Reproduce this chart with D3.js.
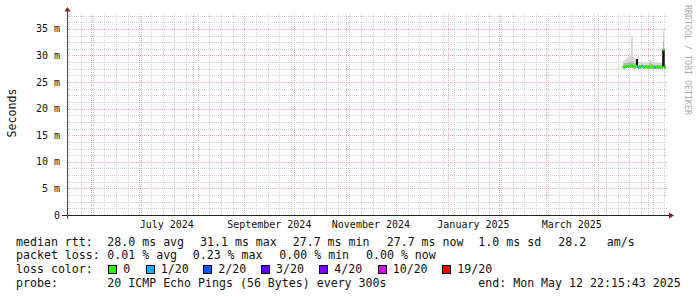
<!DOCTYPE html>
<html><head><meta charset="utf-8">
<script src="https://cdn.jsdelivr.net/npm/d3@7/dist/d3.min.js"></script>
<style>
html,body{margin:0;padding:0;background:#fff;}
svg{display:block;}
text{font-family:"DejaVu Sans Mono",monospace;white-space:pre;}
</style>
</head><body>
<svg id="c" width="697" height="297"></svg>
<script>
// ---------------- data ----------------
const endTime = new Date(2025, 4, 12, 22, 15, 43);
const spanDays = 360;
const days = ["2025-04-16","2025-04-17","2025-04-18","2025-04-19","2025-04-20","2025-04-21","2025-04-22",
  "2025-04-23","2025-04-24","2025-04-25","2025-04-26","2025-04-27","2025-04-28","2025-04-29","2025-04-30",
  "2025-05-01","2025-05-02","2025-05-03","2025-05-04","2025-05-05","2025-05-06","2025-05-07","2025-05-08",
  "2025-05-09","2025-05-10","2025-05-11"];
const medianMs = [27.8,27.9,27.9,28.0,28.0,28.1,27.9,27.9,28.0,27.8,27.9,28.0,27.8,27.8,27.9,
  27.8,27.9,27.9,27.8,27.8,27.8,27.9,27.8,27.8,31.1,27.7];
const lossCount = [0,0,0,0,0,0,0,0,0,1,0,1,0,0,0,0,0,0,0,1,0,0,0,0,0,0];
const smokeLoMs = [27.5,27.5,27.6,27.6,27.6,27.6,27.5,27.5,27.6,27.5,27.5,27.6,27.5,27.5,27.5,
  27.5,27.5,27.5,27.5,27.5,27.5,27.5,27.5,27.5,27.8,27.5];
const smokeHiMs = [28.9,29.2,29.5,29.8,30.1,33.5,29.7,29.6,29.3,28.8,28.7,28.8,28.6,28.8,28.7,
  28.8,29.1,29.0,28.8,28.7,28.6,28.7,28.6,28.6,34.8,28.4];
const smokeMidMs = [28.4,28.5,28.6,28.7,28.8,29.0,28.6,28.6,28.6,28.3,28.3,28.3,28.2,28.3,28.3,
  28.3,28.5,28.4,28.3,28.3,28.2,28.3,28.2,28.2,32.6,28.1];
const darkLoMs = [27.6,null,null,null,null,null,null,null,28.0,null,null,null,null,null,null,
  null,null,null,null,null,null,null,null,null,28.0,null];
const darkHiMs = [27.9,null,null,null,null,null,null,null,29.3,null,null,null,null,null,null,
  null,null,null,null,null,null,null,null,null,30.9,null];

const yTicks = [0,5,10,15,20,25,30,35];
const yTickLabels = ["0","5 m","10 m","15 m","20 m","25 m","30 m","35 m"];
const yMax = 37.8;
const labelMonths = ["2024-07-01","2024-09-01","2024-11-01","2025-01-01","2025-03-01"];

const lossColors = ["#26ff00","#00b8ff","#0059ff","#5e00ff","#7e00ff","#dd00ff","#ff0000"];
const lossLabels = ["0","1/20","2/20","3/20","4/20","10/20","19/20"];
const lossThresholds = [0,1,2,3,4,10,19];

const legendRtt = ["median rtt:","28.0 ms avg","31.1 ms max","27.7 ms min","27.7 ms now","1.0 ms sd","28.2","am/s"];
const legendLoss = ["packet loss:","0.01 % avg","0.23 % max","0.00 % min","0.00 % now"];
const legendProbe = ["probe:","20 ICMP Echo Pings (56 Bytes) every 300s","end: Mon May 12 22:15:43 2025"];

// ---------------- layout ----------------
const parse = d3.timeParse("%Y-%m-%d");
const startTime = d3.timeDay.offset(endTime, -spanDays);
const L = 67.5, R = 667.5, T = 14, B = 215;
const x = d3.scaleTime().domain([startTime, endTime]).range([L, R]);
const y = d3.scaleLinear().domain([0, yMax]).range([B, T]);
const svg = d3.select("#c");
svg.append("rect").attr("width",697).attr("height",297).attr("fill","#fff");

const minorCol = "#d2d2d2", majorCol = "#e8aeae";
const grid = svg.append("g").attr("shape-rendering","crispEdges");
const minorY = d3.range(1.25, yMax, 1.25).filter(v => Math.abs(v/5 - Math.round(v/5)) > 1e-6);
grid.selectAll(".hm").data(minorY).join("line")
  .attr("x1", L).attr("x2", R).attr("y1", d => Math.round(y(d))+0.5).attr("y2", d => Math.round(y(d))+0.5)
  .attr("stroke",minorCol).attr("stroke-dasharray","1,1");
const weeks = d3.timeSunday.range(startTime, endTime);
grid.selectAll(".vm").data(weeks).join("line")
  .attr("x1", d => Math.round(x(d))+0.5).attr("x2", d => Math.round(x(d))+0.5)
  .attr("y1", T).attr("y2", B).attr("stroke",minorCol).attr("stroke-dasharray","1,1");
grid.selectAll(".hM").data(yTicks.slice(1)).join("line")
  .attr("x1", L).attr("x2", R).attr("y1", d => Math.round(y(d))+0.5).attr("y2", d => Math.round(y(d))+0.5)
  .attr("stroke",majorCol).attr("stroke-dasharray","1,1");
const months = d3.timeMonth.range(startTime, endTime);
grid.selectAll(".vM").data(months).join("line")
  .attr("x1", d => Math.round(x(d))+0.5).attr("x2", d => Math.round(x(d))+0.5)
  .attr("y1", T).attr("y2", B).attr("stroke",majorCol).attr("stroke-dasharray","1,1");

// ---------------- data marks ----------------
const rows = days.map((d,i) => ({
  t0: parse(d), t1: d3.timeDay.offset(parse(d), 1),
  med: medianMs[i], loss: lossCount[i], lo: smokeLoMs[i], hi: smokeHiMs[i], mid: smokeMidMs[i],
  dlo: darkLoMs[i], dhi: darkHiMs[i]
}));
const marks = svg.append("g").attr("shape-rendering","crispEdges");
marks.selectAll(".s1").data(rows).join("rect")
  .attr("x", d => x(d.t0)).attr("width", d => x(d.t1)-x(d.t0))
  .attr("y", d => y(d.hi)).attr("height", d => y(d.lo)-y(d.hi)).attr("fill","#d6d6d6");
marks.selectAll(".s2").data(rows).join("rect")
  .attr("x", d => x(d.t0)).attr("width", d => x(d.t1)-x(d.t0))
  .attr("y", d => y(d.mid)).attr("height", d => y(d.lo)-y(d.mid)).attr("fill","#b4b4b4");
marks.selectAll(".s3").data(rows.filter(d => d.dlo != null)).join("rect")
  .attr("x", d => x(d.t0)).attr("width", d => Math.max(1.5, x(d.t1)-x(d.t0)))
  .attr("y", d => y(d.dhi)).attr("height", d => y(d.dlo)-y(d.dhi)).attr("fill","#111");
const stepPts = rows.flatMap(d => [[d.t0, d.med],[d.t1, d.med]]);
svg.append("path").attr("d", d3.line().x(p => x(p[0])).y(p => y(p[1]))(stepPts))
  .attr("fill","none").attr("stroke","#202020").attr("stroke-width",1);
const colorOf = l => { let c = lossColors[0]; lossThresholds.forEach((t,k) => { if (l >= t) c = lossColors[k]; }); return c; };
svg.selectAll(".med").data(rows).join("line")
  .attr("x1", d => x(d.t0)).attr("x2", d => x(d.t1))
  .attr("y1", d => y(d.med)).attr("y2", d => y(d.med))
  .attr("stroke", d => colorOf(d.loss)).attr("stroke-width",2.5);

// ---------------- axes ----------------
const ax = svg.append("g").attr("shape-rendering","crispEdges");
ax.append("line").attr("x1",62).attr("x2",669).attr("y1",B+0.5).attr("y2",B+0.5).attr("stroke","#222");
ax.append("line").attr("x1",L).attr("x2",L).attr("y1",10).attr("y2",219).attr("stroke","#444");
svg.append("path").attr("d",`M${L-3},11.5 L${L+3},11.5 L${L},7 Z`).attr("fill","#8b1a1a");
svg.append("path").attr("d",`M669,${B-2.5} L669,${B+3.5} L674,${B+0.5} Z`).attr("fill","#8b1a1a");

svg.selectAll(".yl").data(yTicks).join("text")
  .attr("x", 60).attr("y", d => y(d)+3.5).attr("text-anchor","end")
  .attr("font-size","10px").attr("fill","#111").text((d,i) => yTickLabels[i]);

const fmt = d3.timeFormat("%B %Y");
svg.selectAll(".xl").data(labelMonths.map(parse)).join("text")
  .attr("x", d => (x(d) + x(d3.timeMonth.offset(d,1)))/2).attr("y", 228)
  .attr("text-anchor","middle").attr("font-size","10px").attr("fill","#111").text(d => fmt(d));

svg.append("text").attr("transform","translate(15.5,113) rotate(-90)").attr("text-anchor","middle")
  .attr("font-size","11.6px").attr("fill","#111").text("Seconds");
svg.append("text").attr("transform","translate(684.5,5) rotate(90)").attr("text-anchor","start")
  .attr("font-size","8.3px").attr("fill","#aaa").text("RRDTOOL / TOBI OETIKER");

// ---------------- legend ----------------
const lg = svg.append("g").attr("font-size","11.6px").attr("fill","#111");
const rttX = [16,107.3,200,292.7,386.7,478.3,558.3,606.7];
lg.selectAll(".r1").data(legendRtt).join("text").attr("x",(d,i)=>rttX[i]).attr("y",245.5).text(d=>d);
const lossX = [16,107.3,192.7,279.3,366];
lg.selectAll(".r2").data(legendLoss).join("text").attr("x",(d,i)=>lossX[i]).attr("y",259.3).text(d=>d);
lg.append("text").attr("x",16).attr("y",273.2).text("loss color:");
const boxX = [108.3,145.7,203.3,261,319.3,377.7,442.3];
lg.selectAll(".bx").data(lossColors).join("rect").attr("x",(d,i)=>boxX[i]+0.5).attr("y",265.5)
  .attr("width",8).attr("height",8).attr("fill",d=>d).attr("stroke","#000").attr("shape-rendering","crispEdges");
lg.selectAll(".bt").data(lossLabels).join("text").attr("x",(d,i)=>boxX[i]+15).attr("y",273.2).text(d=>d);
const probeX = [16,107.3,478.3];
lg.selectAll(".r4").data(legendProbe).join("text").attr("x",(d,i)=>probeX[i]).attr("y",287).text(d=>d);
</script>
</body></html>
